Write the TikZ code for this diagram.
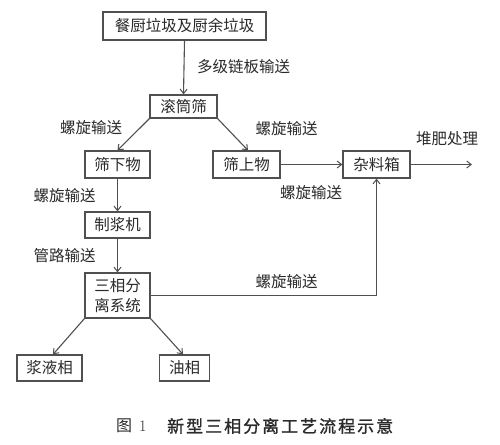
\documentclass[tikz,border=0pt]{standalone}
\usepackage{fontspec}
\newfontfamily\cjk{Noto Sans CJK SC}
\newfontfamily\cjkb{Noto Sans CJK SC}[FakeBold=1.2]
\usetikzlibrary{arrows.meta}
\definecolor{ln}{HTML}{505050}
\definecolor{tx}{HTML}{2A2A2A}
\newcommand\capsp{\kern2pt}
\begin{document}
\begin{tikzpicture}[x=1pt,y=-1pt,
  box/.style={draw=ln,line width=1.2pt,fill=white,text=tx,inner sep=0pt,font=\cjk\fontsize{15.5}{19}\selectfont},
  lbl/.style={text=tx,inner sep=0pt,font=\cjk\fontsize{15.5}{19}\selectfont},
  arr/.style={draw=ln,line width=1.1pt,-{Straight Barb[length=4.5pt,width=7pt,line width=1pt]}}]
\useasboundingbox[fill=white] (0,0) rectangle (500,444);
% nodes
\node[box,minimum width=163pt,minimum height=28pt] (top) at (184.5,26) {餐厨垃圾及厨余垃圾};
\node[box,minimum width=67pt,minimum height=23pt] (gt) at (183.5,106.5) {滚筒筛};
\node[box,minimum width=65pt,minimum height=27pt] (xia) at (117.5,164.5) {筛下物};
\node[box,minimum width=67pt,minimum height=27pt] (shang) at (246.5,164.5) {筛上物};
\node[box,minimum width=67pt,minimum height=27pt] (zl) at (376.5,164.5) {杂料箱};
\node[box,minimum width=65pt,minimum height=26pt] (zj) at (117.5,225) {制浆机};
\node[box,minimum width=65pt,minimum height=45pt,align=center] (sx) at (117.5,295.5) {三相分\\[1pt]离系统};
\node[box,minimum width=65pt,minimum height=26pt] (jy) at (49.5,368) {浆液相};
\node[box,minimum width=50pt,minimum height=26pt] (yx) at (184.5,368) {油相};
\coordinate (out) at (472,164.5);
% connectors
\draw[arr] (top.south) -- (gt.north);
\draw[arr] (gt.south west) -- (xia.north);
\draw[arr] (gt.south east) -- ([xshift=1.5pt]shang.north);
\draw[arr] (shang.east) -- (zl.west);
\draw[arr] (zl.east) -- (out);
\draw[arr] (xia.south) -- (zj.north);
\draw[arr] (zj.south) -- (sx.north);
\draw[arr] (sx.east) -| (zl.south);
\draw[arr] (sx.south west) -- ([xshift=3.5pt]jy.north);
\draw[arr] (sx.south east) -- ([xshift=-1.5pt]yx.north);
% labels
\node[lbl,anchor=west] (l1) at (197,67) {多级链板输送};
\node[lbl] (l2) at (91,128) {螺旋输送};
\node[lbl] (l3) at (286.5,129) {螺旋输送};
\node[lbl] (l4) at (447,139) {堆肥处理};
\node[lbl] (l5) at (311,193) {螺旋输送};
\node[lbl] (l6) at (64.5,196) {螺旋输送};
\node[lbl] (l7) at (64.5,256) {管路输送};
\node[lbl] (l8) at (286.5,282) {螺旋输送};
% caption
\node[text=tx,inner sep=0pt,anchor=west,font=\cjk\fontsize{16}{19}\selectfont] (fig) at (116,426) {图\kern7pt{\normalfont\fontsize{16}{18}\selectfont 1}};
\node[text=tx,inner sep=0pt,anchor=west,font=\cjkb\fontsize{17}{20}\selectfont] (cap) at (167,426) {新\capsp 型\capsp 三\capsp 相\capsp 分\capsp 离\capsp 工\capsp 艺\capsp 流\capsp 程\capsp 示\capsp 意};
\end{tikzpicture}
\end{document}
